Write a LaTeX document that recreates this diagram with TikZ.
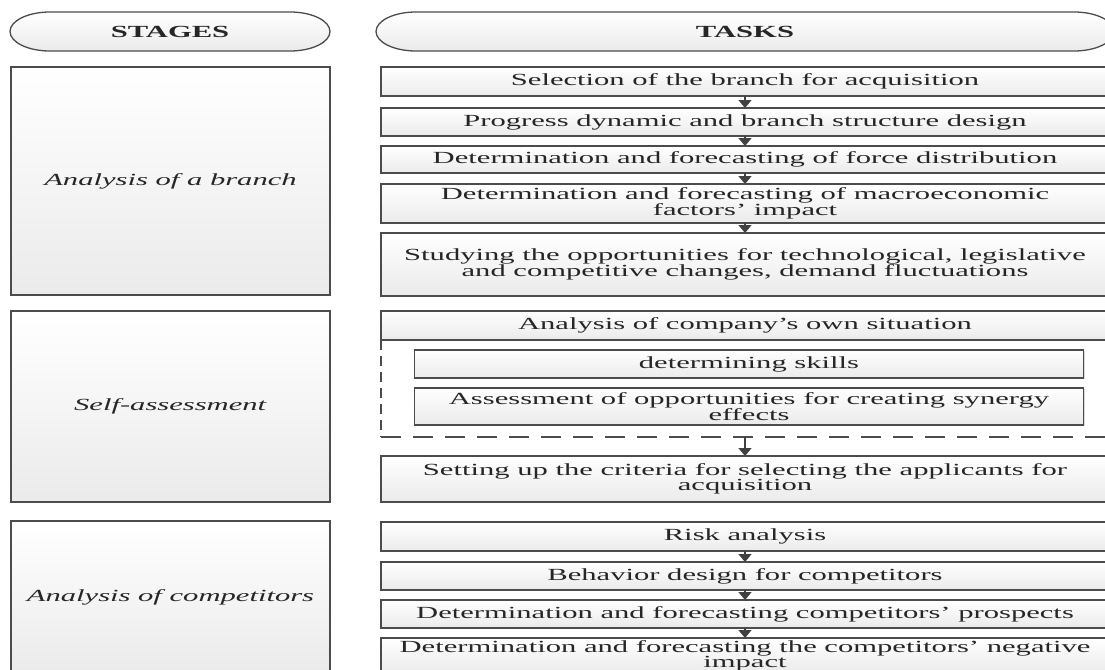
\documentclass[tikz,border=0pt]{standalone}
\usepackage{fontspec}
\setmainfont[FakeStretch=1.8]{Liberation Serif}
\usetikzlibrary{shadows,arrows.meta}
\pgfdeclarelayer{bg}
\pgfsetlayers{bg,main}

\begin{document}
\begin{tikzpicture}[x=1pt,y=-1pt]
\tikzstyle{every node}=[font=\fontsize{17}{15}\selectfont,text=black!85,align=center,inner sep=0pt,outer sep=0pt];
\tikzstyle{box}=[draw=black!70,line width=1.3pt,top color=white,bottom color=black!8,drop shadow={shadow xshift=1.2pt,shadow yshift=-1.2pt,opacity=0.3}];
\tikzstyle{stagebox}=[box,minimum width=319pt];
\tikzstyle{taskbox}=[box,minimum width=728pt];
\tikzstyle{subbox}=[box,minimum width=669pt];
\tikzstyle{hdr}=[minimum height=39pt];
\tikzstyle{hdrline}=[draw=black!70,line width=1.3pt,top color=white,bottom color=black!8];
\tikzstyle{grpline}=[draw=black!70,line width=1.3pt];
\tikzstyle{arr}=[draw=black!75,line width=1.5pt,-{Triangle[length=8pt,width=13pt]}];

\useasboundingbox (0,0) rectangle (1105,669);
\clip (0,0) rectangle (1105,669);

% headers
\node[hdr,minimum width=320pt] (stages) at (170,31.5) {\textbf{STAGES}};
\node[hdr,minimum width=738pt] (tasks) at (745,31.5) {\textbf{TASKS}};
\begin{pgfonlayer}{bg}
\draw[hdrline] ([xshift=40pt]stages.north west) arc[start angle=270,end angle=90,x radius=40,y radius=19.5]
  -- ([xshift=-40pt]stages.south east) arc[start angle=90,end angle=-90,x radius=40,y radius=19.5] -- cycle;
\draw[hdrline] ([xshift=40pt]tasks.north west) arc[start angle=270,end angle=90,x radius=40,y radius=19.5]
  -- ([xshift=-40pt]tasks.south east) arc[start angle=90,end angle=-90,x radius=40,y radius=19.5] -- cycle;
\end{pgfonlayer}

% stages
\node[stagebox,minimum height=228pt] (sbranch) at (170.5,181) {\textit{Analysis of a branch}};
\node[stagebox,minimum height=191pt] (sself) at (170.5,406.5) {\textit{Self-assessment}};
\node[stagebox,minimum height=152pt] (scomp) at (170.5,597) {\textit{Analysis of competitors}};

% branch
\node[taskbox,minimum height=29pt] (t1) at (745,81.5) {Selection of the branch for acquisition};
\node[taskbox,minimum height=28pt] (t2) at (745,122) {Progress dynamic and branch structure design};
\node[taskbox,minimum height=27pt] (t3) at (745,159.5) {Determination and forecasting of force distribution};
\node[taskbox,minimum height=39pt] (t4) at (745,203.5) {Determination and forecasting of macroeconomic\\factors' impact};
\node[taskbox,minimum height=63pt] (t5) at (745,264.5) {Studying the opportunities for technological, legislative\\and competitive changes, demand fluctuations};

% self-assessment
\node[minimum width=728pt,minimum height=97pt] (sgrp) at (745,388.5) {};
\draw[grpline,dash pattern=on 10pt off 6pt] (sgrp.north west) -- (sgrp.south west);
\draw[grpline,dash pattern=on 20pt off 12pt] (sgrp.south west) -- (sgrp.south east);
\node[taskbox,minimum height=29pt] (s0) at (745,325.5) {Analysis of company's own situation};
\node[subbox,minimum height=28pt] (s1) at (749,364) {determining skills};
\node[subbox,minimum height=37pt] (s2) at (749,406.5) {Assessment of opportunities for creating synergy\\effects};
\node[taskbox,minimum height=46pt] (s3) at (745,479) {Setting up the criteria for selecting the applicants for\\acquisition};

% competitors
\node[taskbox,minimum height=29pt] (c1) at (745,536.5) {Risk analysis};
\node[taskbox,minimum height=28pt] (c2) at (745,576) {Behavior design for competitors};
\node[taskbox,minimum height=28pt] (c3) at (745,614) {Determination and forecasting competitors' prospects};
\node[taskbox,minimum height=35pt] (c4) at (745,655.5) {Determination and forecasting the competitors' negative\\impact};

\foreach \a/\b in {t1/t2,t2/t3,t3/t4,t4/t5,sgrp/s3,c1/c2,c2/c3,c3/c4}
  \draw[arr] (\a) -- (\b);
\end{tikzpicture}
\end{document}
